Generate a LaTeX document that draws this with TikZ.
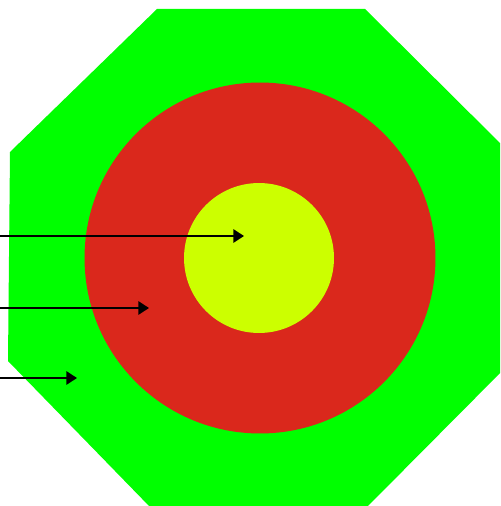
\documentclass[tikz,border=0pt]{standalone}
\usetikzlibrary{arrows.meta}
\definecolor{ringgreen}{RGB}{0,255,0}
\definecolor{ringred}{RGB}{218,40,28}
\definecolor{ringyellow}{RGB}{204,255,0}
\tikzset{
  pointer/.style={line width=1.1pt,-{Triangle[length=6pt,width=7.5pt]}},
  ring/.style={circle,inner sep=0pt,draw=none}
}
\begin{document}
\begin{tikzpicture}[x=0.02cm,y=-0.02cm]
  \useasboundingbox (0,0) rectangle (500,506);
  \clip (0,0) rectangle (500,506);
  \fill[ringgreen] (157,9)--(365,9)--(509,152)--(509,364)--(366,508)--(151,508)--(8,361)--(10,152)--cycle;
  \node[ring,fill=ringred,minimum size=7.02cm] (outer) at (260,258) {};
  \node[ring,fill=ringyellow,minimum size=3.0cm] (inner) at (259,258) {};
  \coordinate (s1) at (0,236);  \coordinate (t1) at (244,236);
  \coordinate (s2) at (0,308);  \coordinate (t2) at (149,308);
  \coordinate (s3) at (0,378);  \coordinate (t3) at (77,378);
  \foreach \i in {1,2,3} {\draw[pointer] (s\i)--(t\i);}
\end{tikzpicture}
\end{document}
